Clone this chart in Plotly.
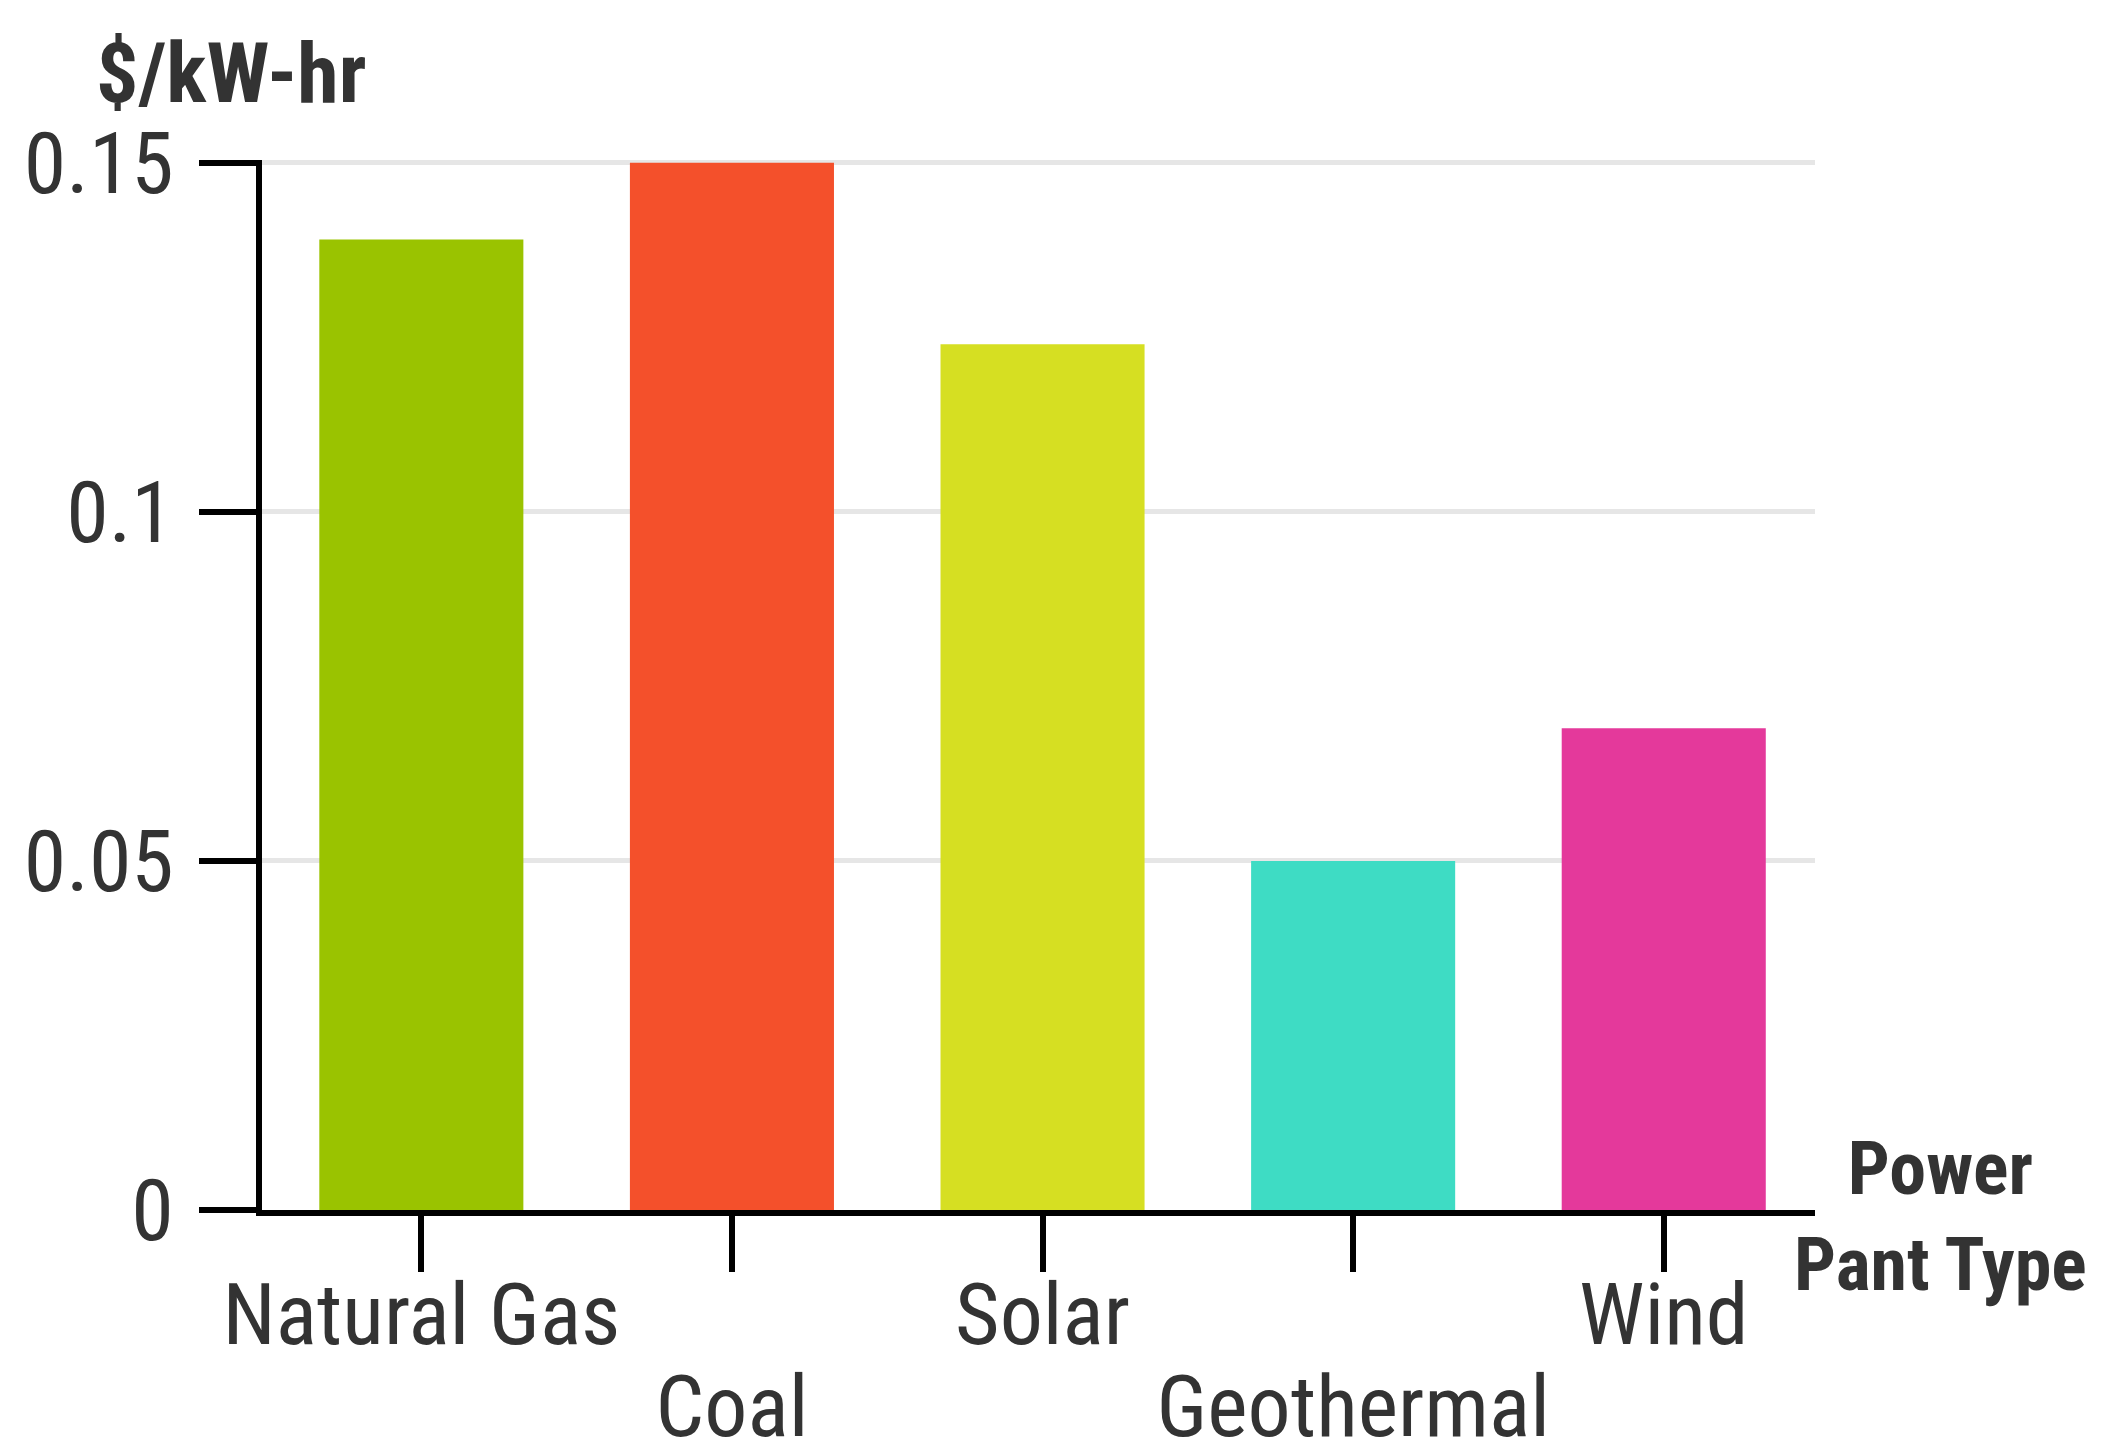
import plotly.graph_objects as go

categories = ["Natural Gas", "Coal", "Solar", "Geothermal", "Wind"]
costs = [0.139, 0.15, 0.124, 0.05, 0.069]
bar_colors = ["#9AC300", "#F4502B", "#D6DF22", "#3EDCC4", "#E4399B"]
y_tickvals = [0, 0.05, 0.1, 0.15]
y_ticktext = ["0", "0.05", "0.1", "0.15"]
y_title = "$/kW-hr"
x_title = "Power<br>Pant Type"

FONT = "Roboto Condensed, Liberation Sans Narrow, Arial Narrow, Roboto, sans-serif"
TXT = "#333333"

upper = [c if i % 2 == 0 else "" for i, c in enumerate(categories)]
lower = [c if i % 2 == 1 else "" for i, c in enumerate(categories)]

fig = go.Figure()
fig.add_trace(go.Bar(
    x=categories, y=costs, marker=dict(color=bar_colors, line=dict(width=0)),
    hoverinfo="skip", showlegend=False,
))
# invisible helper trace so the second (label-only) axis knows the categories
fig.add_trace(go.Scatter(
    x=categories, y=costs, xaxis="x2", mode="markers",
    marker=dict(opacity=0), hoverinfo="skip", showlegend=False,
))

fig.update_layout(
    width=2093, height=1431,
    margin=dict(l=254, r=286, t=152, b=229, autoexpand=False),
    paper_bgcolor="white", plot_bgcolor="white",
    bargap=0.343,
    font=dict(family=FONT, color=TXT),
    xaxis=dict(
        type="category", range=[-0.513, 4.487],
        showline=True, linecolor="black", linewidth=6,
        ticks="outside", ticklen=56, tickwidth=6, tickcolor="black",
        tickvals=categories, ticktext=upper,
        tickfont=dict(size=86, color=TXT, family=FONT),
        ticklabelstandoff=-31,
        showgrid=False, zeroline=False, fixedrange=True,
    ),
    xaxis2=dict(
        type="category", overlaying="x", matches="x", anchor="y", side="bottom",
        showline=False, ticks="", showgrid=False, zeroline=False,
        tickvals=categories, ticktext=lower,
        tickfont=dict(size=86, color=TXT, family=FONT),
        ticklabelstandoff=139,
    ),
    yaxis=dict(
        range=[0, 0.1504], tickvals=y_tickvals, ticktext=y_ticktext,
        showline=True, linecolor="black", linewidth=6,
        ticks="outside", ticklen=57, tickwidth=6, tickcolor="black",
        tickfont=dict(size=86, color=TXT, family=FONT),
        ticklabelstandoff=8,
        showgrid=True, gridcolor="#E6E6E6", gridwidth=5,
        zeroline=False, fixedrange=True,
    ),
    annotations=[
        dict(text=y_title, xref="paper", yref="paper", x=-0.108, y=1.082,
             xanchor="left", yanchor="middle", showarrow=False,
             font=dict(size=84, color=TXT, family=FONT, weight="bold")),
        dict(text=x_title, xref="paper", yref="paper", x=1.0805, y=-0.006,
             xanchor="center", yanchor="middle", align="center", showarrow=False,
             font=dict(size=74, color=TXT, family=FONT, weight="bold")),
    ],
)

fig.write_html("out.html")
